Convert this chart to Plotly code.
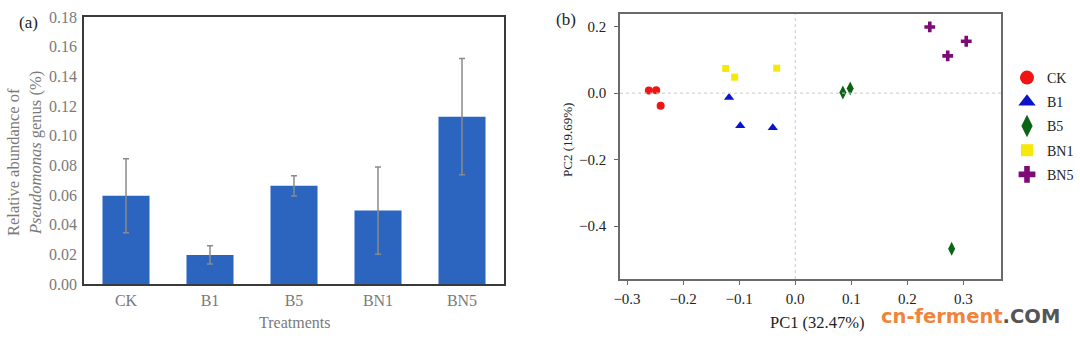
import plotly.graph_objects as go

# ---- Panel (a): relative abundance of Pseudomonas by treatment ----
treatments = ["CK", "B1", "B5", "BN1", "BN5"]
abundance = [0.0595, 0.0196, 0.0662, 0.0495, 0.1128]
abundance_sd = [0.0250, 0.0062, 0.0068, 0.0294, 0.0392]
abund_ticks = [0.00, 0.02, 0.04, 0.06, 0.08, 0.10, 0.12, 0.14, 0.16, 0.18]

# ---- Panel (b): PCA scores ----
pca_groups = ["CK", "B1", "B5", "BN1", "BN5"]
pc1 = {
    "CK": [-0.261, -0.248, -0.240],
    "B1": [-0.118, -0.098, -0.040],
    "B5": [0.085, 0.098, 0.279],
    "BN1": [-0.124, -0.108, -0.033],
    "BN5": [0.240, 0.305, 0.272],
}
pc2 = {
    "CK": [0.008, 0.009, -0.038],
    "B1": [-0.013, -0.098, -0.104],
    "B5": [0.002, 0.014, -0.468],
    "BN1": [0.074, 0.048, 0.075],
    "BN5": [0.199, 0.156, 0.112],
}
pc1_ticks = [-0.3, -0.2, -0.1, 0.0, 0.1, 0.2, 0.3]
pc2_ticks = [0.2, 0.0, -0.2, -0.4]

group_style = {
    "CK": dict(color="#f01414", symbol="circle", size=8, legend_size=14),
    "B1": dict(color="#0a14c8", symbol="triangle-up", size=9, legend_size=15),
    "B5": dict(color="#0a6414", symbol="diamond-tall", size=10, legend_size=16),
    "BN1": dict(color="#f5e80a", symbol="square", size=7, legend_size=12),
    "BN5": dict(color="#7d0a78", symbol="cross", size=9, legend_size=14),
}

SERIF = "Liberation Serif, Times New Roman, serif"
GRAY_TXT = "#7a7a7a"
DARK_TXT = "#222222"

fig = go.Figure()

fig.add_trace(go.Bar(
    x=treatments, y=abundance,
    marker=dict(color="#2b65c0", line=dict(width=0)),
    error_y=dict(type="data", array=abundance_sd, color="#8a8a8a",
                 thickness=1.5, width=3),
    xaxis="x", yaxis="y", showlegend=False,
))

for g in pca_groups:
    st = group_style[g]
    fig.add_trace(go.Scatter(
        x=pc1[g], y=pc2[g], mode="markers", name=g,
        marker=dict(color=st["color"], symbol=st["symbol"], size=st["size"],
                    line=dict(width=0)),
        xaxis="x2", yaxis="y2", showlegend=False,
    ))
    # legend entry with a larger symbol
    fig.add_trace(go.Scatter(
        x=[None], y=[None], mode="markers", name=g, legendgroup=g,
        marker=dict(color=st["color"], symbol=st["symbol"], size=st["legend_size"],
                    line=dict(width=0)),
        xaxis="x2", yaxis="y2", showlegend=True,
    ))

W, H = 1080, 341

def xd(a, b):
    return [a / W, b / W]

def yd(top, bottom):
    return [1 - bottom / H, 1 - top / H]

def px(x, y):
    return x / W, 1 - y / H

def label(text, x, y, size, color, angle=0, **kw):
    xx, yy = px(x, y)
    return dict(text=text, x=xx, y=yy, xref="paper", yref="paper",
                textangle=angle, showarrow=False,
                font=dict(family=kw.pop("family", SERIF), size=size, color=color),
                xanchor=kw.pop("xanchor", "center"), yanchor=kw.pop("yanchor", "middle"),
                **kw)

fig.update_layout(
    width=W, height=H,
    margin=dict(l=0, r=0, t=0, b=0, autoexpand=False),
    paper_bgcolor="white", plot_bgcolor="white",
    font=dict(family=SERIF, size=14, color=DARK_TXT),
    bargap=0.44,
    xaxis=dict(
        domain=xd(84, 504), type="category",
        showline=True, mirror=True, linecolor="#3a3a3a", linewidth=1.5,
        ticks="", showgrid=False, ticklabelstandoff=1,
        tickfont=dict(family=SERIF, size=16, color=GRAY_TXT),
        anchor="y",
    ),
    yaxis=dict(
        domain=yd(17, 284), range=[0, 0.18],
        tickvals=abund_ticks, tickformat=".2f",
        showline=True, mirror=True, linecolor="#3a3a3a", linewidth=1.5,
        ticks="", showgrid=False, zeroline=False, ticklabelstandoff=2,
        tickfont=dict(family=SERIF, size=16, color=GRAY_TXT),
        anchor="x",
    ),
    xaxis2=dict(
        domain=xd(620, 1001), range=[-0.3125, 0.367],
        tickvals=pc1_ticks, tickformat=".1f",
        showline=True, mirror=True, linecolor="#6a6a6a", linewidth=1.5,
        ticks="outside", ticklen=4, tickcolor="#6a6a6a", tickwidth=1,
        showgrid=False, zeroline=False, ticklabelstandoff=1,
        tickfont=dict(family=SERIF, size=15, color=DARK_TXT),
        anchor="y2",
    ),
    yaxis2=dict(
        domain=yd(14, 279), range=[-0.559, 0.238],
        tickvals=pc2_ticks, tickformat=".1f",
        showline=True, mirror=True, linecolor="#6a6a6a", linewidth=1.5,
        ticks="outside", ticklen=4, tickcolor="#6a6a6a", tickwidth=1,
        showgrid=False, zeroline=False, ticklabelstandoff=5,
        tickfont=dict(family=SERIF, size=15, color=DARK_TXT),
        anchor="x2",
    ),
    legend=dict(
        x=1007 / W, y=1 - 62 / H, xanchor="left", yanchor="top",
        font=dict(family=SERIF, size=14, color=DARK_TXT),
        bgcolor="rgba(0,0,0,0)", tracegroupgap=3, itemsizing="trace",
    ),
    shapes=[
        dict(type="line", xref="x2", yref="y2 domain", x0=0, x1=0, y0=0, y1=1,
             line=dict(color="#c8c8c8", width=1, dash="dot")),
        dict(type="line", xref="x2 domain", yref="y2", x0=0, x1=1, y0=0, y1=0,
             line=dict(color="#c8c8c8", width=1, dash="dot")),
    ],
    annotations=[
        label("(a)", 28, 23, 17, DARK_TXT),
        label("(b)", 566, 20, 17, DARK_TXT),
        label("Relative abundance of", 13, 162, 16.5, GRAY_TXT, angle=-90),
        label("<i>Pseudomonas</i> genus (%)", 35, 153, 16.5, GRAY_TXT, angle=-90),
        label("Treatments", 294, 322, 16, GRAY_TXT),
        label("PC1 (32.47%)", 817, 322, 16.5, DARK_TXT),
        label("PC2 (19.69%)", 567, 140, 13, DARK_TXT, angle=-90),
        label("<b><span style='color:#f0843a'>cn-ferment</span>"
              "<span style='color:#555555'>.COM</span></b>",
              970, 316, 19.5, "#555555", family="DejaVu Sans, sans-serif",
              borderpad=0),
    ],
)

fig.write_html("out.html")
